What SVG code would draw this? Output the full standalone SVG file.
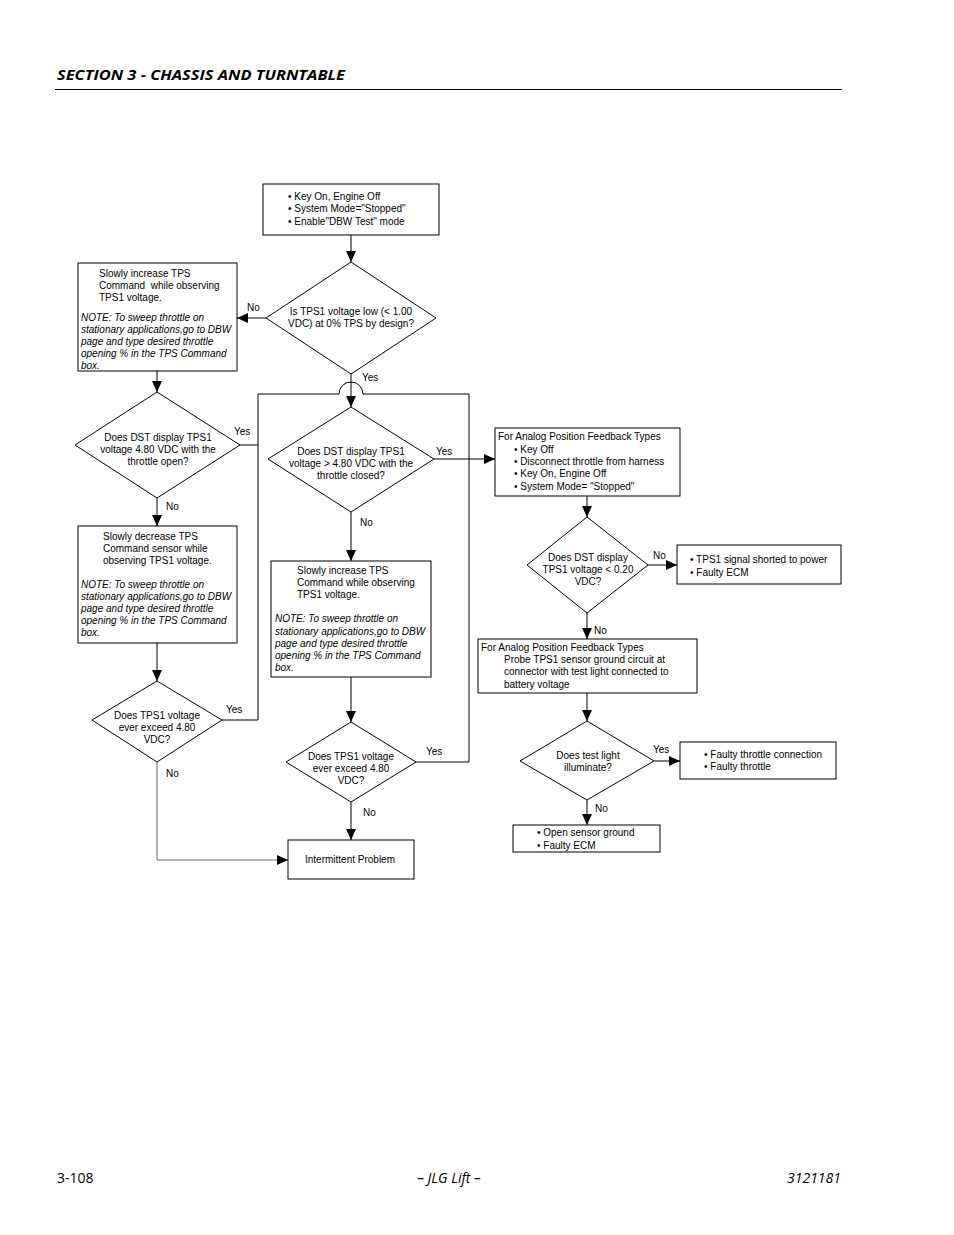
<svg xmlns="http://www.w3.org/2000/svg" width="954" height="1235" viewBox="0 0 954 1235">
<style>
.box{fill:#fff;stroke:#000;stroke-width:1}
.t{font-family:"Liberation Sans",Arial,sans-serif;font-size:10px;fill:#000}
.i{font-style:italic}
.c{text-anchor:middle}
.ln{fill:none;stroke:#000;stroke-width:1}
.hd{font-family:"Open Sans","Liberation Sans",sans-serif;font-weight:bold;font-style:italic;font-size:15px}
.ft{font-family:"Open Sans","Liberation Sans",sans-serif;font-size:14px}
</style>
<defs>
<marker id="a" markerUnits="userSpaceOnUse" markerWidth="11" markerHeight="10" refX="11" refY="5" orient="auto">
<path d="M0,0 L11,5 L0,10 z" fill="#000"/>
</marker>
</defs>
<rect width="954" height="1235" fill="#fff"/>
<g id="header">
<text x="57" y="80" class="hd" textLength="288" lengthAdjust="spacingAndGlyphs">SECTION 3 - CHASSIS AND TURNTABLE</text>
<line x1="55" y1="89.5" x2="842" y2="89.5" stroke="#000" stroke-width="1"/>
</g>
<g id="connectors">
<line class="ln" x1="351" y1="235" x2="351" y2="262" marker-end="url(#a)"/>
<line class="ln" x1="266" y1="318" x2="237" y2="318" marker-end="url(#a)"/>
<line class="ln" x1="157" y1="371" x2="157" y2="392" marker-end="url(#a)"/>
<line class="ln" x1="351" y1="374" x2="351" y2="407" marker-end="url(#a)"/>
<path class="ln" d="M240,445 H258 M222,720 H258 V394 H339 A12,12 0 0 1 363,394 H469 V762 H416"/>
<line class="ln" x1="157" y1="498" x2="157" y2="526" marker-end="url(#a)"/>
<line class="ln" x1="157" y1="643" x2="157" y2="681" marker-end="url(#a)"/>
<path d="M157,762 V860 H288" fill="none" stroke="#666" stroke-width="1" marker-end="url(#a)"/>
<line class="ln" x1="434" y1="459" x2="495" y2="459" marker-end="url(#a)"/>
<line class="ln" x1="351" y1="512" x2="351" y2="561" marker-end="url(#a)"/>
<line class="ln" x1="351" y1="677" x2="351" y2="722" marker-end="url(#a)"/>
<line class="ln" x1="351" y1="802" x2="351" y2="840" marker-end="url(#a)"/>
<line class="ln" x1="587" y1="496" x2="587" y2="517" marker-end="url(#a)"/>
<line class="ln" x1="648" y1="565" x2="677" y2="565" marker-end="url(#a)"/>
<line class="ln" x1="587" y1="613" x2="587" y2="639" marker-end="url(#a)"/>
<line class="ln" x1="587" y1="693" x2="587" y2="721" marker-end="url(#a)"/>
<line class="ln" x1="654" y1="761" x2="680" y2="761" marker-end="url(#a)"/>
<line class="ln" x1="587" y1="800" x2="587" y2="825" marker-end="url(#a)"/>
<text class="t" x="247" y="311">No</text>
<text class="t" x="362" y="381">Yes</text>
<text class="t" x="234" y="435">Yes</text>
<text class="t" x="166" y="510">No</text>
<text class="t" x="436" y="455">Yes</text>
<text class="t" x="360" y="526">No</text>
<text class="t" x="226" y="713">Yes</text>
<text class="t" x="166" y="777">No</text>
<text class="t" x="426" y="755">Yes</text>
<text class="t" x="363" y="816">No</text>
<text class="t" x="653" y="559">No</text>
<text class="t" x="594" y="634">No</text>
<text class="t" x="653" y="753">Yes</text>
<text class="t" x="595" y="812">No</text>
</g>
<g id="start">
<rect class="box" x="263" y="184" width="176" height="51"/>
<text class="t" x="288" y="200">• Key On, Engine Off</text>
<text class="t" x="288" y="212">• System Mode="Stopped"</text>
<text class="t" x="288" y="225">• Enable"DBW Test" mode</text>
</g>
<g id="d1">
<polygon class="box" points="351,262 436,318 351,374 266,318"/>
<text class="t c" x="351" y="315">Is TPS1 voltage low (&lt; 1.00</text>
<text class="t c" x="351" y="327">VDC) at 0% TPS by design?</text>
</g>
<g id="b1">
<rect class="box" x="78" y="263" width="159" height="108"/>
<text class="t" x="99" y="277">Slowly increase TPS</text>
<text class="t" x="99" y="289">Command&#160; while observing</text>
<text class="t" x="99" y="301">TPS1 voltage.</text>
<text class="t i" x="81" y="321">NOTE: To sweep throttle on</text>
<text class="t i" x="81" y="333">stationary applications,go to DBW</text>
<text class="t i" x="81" y="345">page and type desired throttle</text>
<text class="t i" x="81" y="357">opening % in the TPS Command</text>
<text class="t i" x="81" y="369">box.</text>
</g>
<g id="d2">
<polygon class="box" points="157,392 240,445 157,498 75,445"/>
<text class="t c" x="158" y="441">Does DST display TPS1</text>
<text class="t c" x="158" y="453">voltage 4.80 VDC with the</text>
<text class="t c" x="158" y="465">throttle open?</text>
</g>
<g id="b2">
<rect class="box" x="78" y="526" width="159" height="117"/>
<text class="t" x="103" y="540">Slowly decrease TPS</text>
<text class="t" x="103" y="552">Command sensor while</text>
<text class="t" x="103" y="564">observing TPS1 voltage.</text>
<text class="t i" x="81" y="588">NOTE: To sweep throttle on</text>
<text class="t i" x="81" y="600">stationary applications,go to DBW</text>
<text class="t i" x="81" y="612">page and type desired throttle</text>
<text class="t i" x="81" y="624">opening % in the TPS Command</text>
<text class="t i" x="81" y="636">box.</text>
</g>
<g id="d4">
<polygon class="box" points="157,681 222,720 157,762 92,720"/>
<text class="t c" x="157" y="719">Does TPS1 voltage</text>
<text class="t c" x="157" y="731">ever exceed 4.80</text>
<text class="t c" x="157" y="743">VDC?</text>
</g>
<g id="d3">
<polygon class="box" points="351,407 434,459 351,512 268,459"/>
<text class="t c" x="351" y="455">Does DST display TPS1</text>
<text class="t c" x="351" y="467">voltage &gt; 4.80 VDC with the</text>
<text class="t c" x="351" y="479">throttle closed?</text>
</g>
<g id="b3">
<rect class="box" x="271" y="561" width="160" height="116"/>
<text class="t" x="297" y="574">Slowly increase TPS</text>
<text class="t" x="297" y="586">Command while observing</text>
<text class="t" x="297" y="598">TPS1 voltage.</text>
<text class="t i" x="275" y="622">NOTE: To sweep throttle on</text>
<text class="t i" x="275" y="635">stationary applications,go to DBW</text>
<text class="t i" x="275" y="647">page and type desired throttle</text>
<text class="t i" x="275" y="659">opening % in the TPS Command</text>
<text class="t i" x="275" y="671">box.</text>
</g>
<g id="d5">
<polygon class="box" points="351,722 416,762 351,802 286,762"/>
<text class="t c" x="351" y="760">Does TPS1 voltage</text>
<text class="t c" x="351" y="772">ever exceed 4.80</text>
<text class="t c" x="351" y="784">VDC?</text>
</g>
<g id="intermittent">
<rect class="box" x="288" y="840" width="126" height="39"/>
<text class="t c" x="350" y="863">Intermittent Problem</text>
</g>
<g id="r1">
<rect class="box" x="495" y="428" width="185" height="68"/>
<text class="t" x="498" y="440">For Analog Position Feedback Types</text>
<text class="t" x="514" y="453">• Key Off</text>
<text class="t" x="514" y="465">• Disconnect throttle from harness</text>
<text class="t" x="514" y="477">• Key On, Engine Off</text>
<text class="t" x="514" y="490">• System Mode= "Stopped"</text>
</g>
<g id="d6">
<polygon class="box" points="587,517 648,565 587,613 527,565"/>
<text class="t c" x="588" y="561">Does DST display</text>
<text class="t c" x="588" y="573">TPS1 voltage &lt; 0.20</text>
<text class="t c" x="588" y="585">VDC?</text>
</g>
<g id="r2">
<rect class="box" x="677" y="545" width="164" height="39"/>
<text class="t" x="690" y="563">• TPS1 signal shorted to power</text>
<text class="t" x="690" y="576">• Faulty ECM</text>
</g>
<g id="r3">
<rect class="box" x="478" y="639" width="219" height="54"/>
<text class="t" x="481" y="651">For Analog Position Feedback Types</text>
<text class="t" x="504" y="663">Probe TPS1 sensor ground circuit at</text>
<text class="t" x="504" y="675">connector with test light connected to</text>
<text class="t" x="504" y="688">battery voltage</text>
</g>
<g id="d7">
<polygon class="box" points="587,721 654,761 587,800 520,761"/>
<text class="t c" x="588" y="759">Does test light</text>
<text class="t c" x="588" y="771">illuminate?</text>
</g>
<g id="r4">
<rect class="box" x="680" y="742" width="156" height="37"/>
<text class="t" x="704" y="758">• Faulty throttle connection</text>
<text class="t" x="704" y="770">• Faulty throttle</text>
</g>
<g id="r5">
<rect class="box" x="513" y="825" width="147" height="27"/>
<text class="t" x="537" y="836">• Open sensor ground</text>
<text class="t" x="537" y="849">• Faulty ECM</text>
</g>
<g id="footer">
<text class="ft" x="57" y="1183">3-108</text>
<text class="ft c" x="449" y="1183" font-style="italic">– JLG Lift –</text>
<text class="ft" x="841" y="1183" font-style="italic" text-anchor="end">3121181</text>
</g>
</svg>
